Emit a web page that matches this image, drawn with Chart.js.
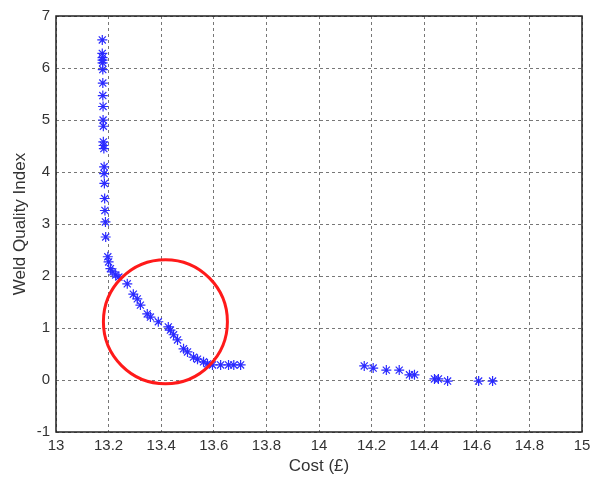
<!DOCTYPE html>
<html>
<head>
<meta charset="utf-8">
<script src="https://cdn.jsdelivr.net/npm/chart.js@4.4.1/dist/chart.umd.min.js"></script>
<style>
  body { margin: 0; background: #fff; }
  #wrap { width: 590px; height: 483px; }
</style>
</head>
<body>
<div id="wrap"><canvas id="chart_weld" width="590" height="483"></canvas></div>
<script>
// cost (£) and weld quality index
const costVals = [
  13.176, 13.176, 13.177, 13.177, 13.177, 13.178, 13.178, 13.178, 13.179, 13.179,
  13.180, 13.180, 13.181, 13.182, 13.183, 13.183, 13.184, 13.185, 13.186, 13.188,
  13.189, 13.197, 13.200, 13.207, 13.216, 13.227, 13.239, 13.271, 13.294, 13.309,
  13.321, 13.347, 13.359, 13.389, 13.427, 13.435, 13.447, 13.462, 13.485, 13.500,
  13.523, 13.538, 13.561, 13.576, 13.595, 13.626, 13.656, 13.676, 13.702,
  14.172, 14.206, 14.256, 14.305, 14.344, 14.363, 14.439, 14.454, 14.489, 14.607, 14.660
];
const qualityVals = [
  6.54, 6.28, 6.20, 6.15, 6.10, 5.97, 5.71, 5.47, 5.26, 5.00,
  4.88, 4.58, 4.51, 4.45, 4.10, 3.97, 3.78, 3.49, 3.26, 3.04,
  2.75, 2.37, 2.27, 2.14, 2.08, 2.02, 1.98, 1.85, 1.65, 1.56,
  1.44, 1.27, 1.21, 1.12, 1.02, 0.96, 0.87, 0.77, 0.60, 0.54,
  0.44, 0.40, 0.35, 0.31, 0.29, 0.29, 0.29, 0.29, 0.29,
  0.27, 0.23, 0.19, 0.19, 0.10, 0.10, 0.02, 0.02, -0.02, -0.02, -0.02
];
// highlighted region (circle centre)
const circleCentre = [13.416, 1.12];

const xTicks = [13, 15, 0.2];
const yTicks = [-1, 7, 1];

let pts = [];
costVals.forEach((c, i) => {
  pts.push({ x: c, y: qualityVals[i] });
});

// solid box round the plot area, like the matlab axes
const frameBox = {
  id: "frameBox",
  afterDraw(chart) {
    const a = chart.chartArea;
    const ctx = chart.ctx;
    ctx.save();
    ctx.strokeStyle = "#222";
    ctx.lineWidth = 1.5;
    ctx.setLineDash([]);
    ctx.strokeRect(a.left, a.top, a.right - a.left, a.bottom - a.top);
    ctx.restore();
  },
};

var ctx = document.getElementById("chart_weld").getContext("2d");

var weldChart = new Chart(ctx, {
  type: "scatter",
  data: {
    datasets: [
      {
        label: "region",
        data: [{ x: circleCentre[0], y: circleCentre[1] }],
        pointStyle: "circle",
        pointRadius: 62,
        pointHoverRadius: 62,
        borderColor: "#ff1a1a",
        borderWidth: 3,
        backgroundColor: "rgba(0,0,0,0)",
        order: 0,
      },
      {
        label: "solutions",
        data: pts,
        pointStyle: "star",
        pointRadius: 5,
        borderColor: "#2b2bff",
        backgroundColor: "#2b2bff",
        borderWidth: 1.2,
        order: 1,
      },
    ],
  },
  options: {
    responsive: false,
    animation: false,
    layout: {
      autoPadding: false,
      padding: { top: 16, right: 8, left: 0, bottom: 0 },
    },
    plugins: {
      legend: { display: false },
      tooltip: { enabled: false },
    },
    scales: {
      x: {
        type: "linear",
        min: xTicks[0],
        max: xTicks[1],
        afterFit: (s) => {
          s.height = 51;
          s.paddingRight = 0; // let the "15" label run to the edge
          s.paddingLeft = 0;
        },
        ticks: {
          stepSize: xTicks[2],
          color: "#333",
          padding: 5,
          font: { family: "Liberation Sans, Arial", size: 15 },
          callback: (v) => String(+v.toFixed(1)),
        },
        grid: { color: "#777", drawTicks: false, lineWidth: 1 },
        border: { display: false, dash: [3, 3] },
        title: {
          display: true,
          text: "Cost (£)",
          color: "#333",
          padding: { top: 0, bottom: 6 },
          font: { family: "Liberation Sans, Arial", size: 17 },
        },
      },
      y: {
        type: "linear",
        min: yTicks[0],
        max: yTicks[1],
        afterFit: (s) => { s.width = 56; },
        ticks: {
          stepSize: yTicks[2],
          color: "#333",
          padding: 6,
          font: { family: "Liberation Sans, Arial", size: 15 },
        },
        grid: { color: "#777", drawTicks: false, lineWidth: 1 },
        border: { display: false, dash: [3, 3] },
        title: {
          display: true,
          text: "Weld Quality Index",
          color: "#333",
          padding: { top: 10, bottom: 0 },
          font: { family: "Liberation Sans, Arial", size: 17 },
        },
      },
    },
  },
  plugins: [frameBox],
});
</script>
</body>
</html>
